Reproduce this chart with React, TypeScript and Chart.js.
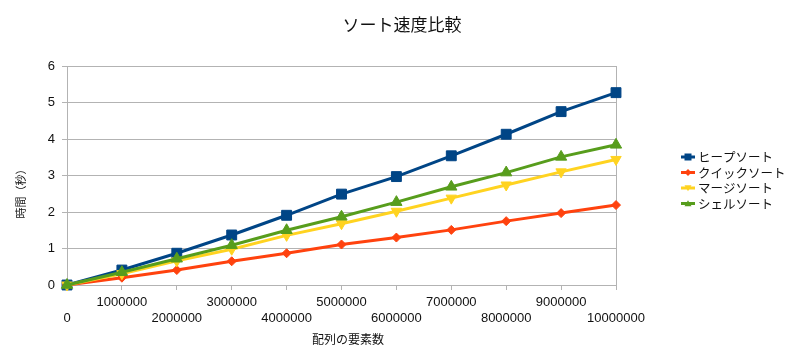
import React, { useEffect, useRef } from "react";
import { Chart, registerables } from "chart.js";

Chart.register(...registerables);

const categories = ["0", "1000000", "2000000", "3000000", "4000000", "5000000", "6000000", "7000000", "8000000", "9000000", "10000000"];
const heapSort = [0, 0.41, 0.87, 1.37, 1.91, 2.49, 2.97, 3.54, 4.13, 4.75, 5.27];
const quickSort = [0, 0.2, 0.41, 0.65, 0.87, 1.11, 1.3, 1.51, 1.75, 1.97, 2.19];
const mergeSort = [0, 0.31, 0.66, 0.98, 1.36, 1.68, 2.02, 2.38, 2.74, 3.1, 3.44];
const shellSort = [0, 0.35, 0.72, 1.09, 1.5, 1.87, 2.27, 2.69, 3.08, 3.51, 3.84];
const seriesNames = ["ヒープソート", "クイックソート", "マージソート", "シェルソート"];
const seriesColors = ["#004586", "#ff420e", "#ffd320", "#579d1c"];
const yTickValues = [0, 1, 2, 3, 4, 5, 6];
const chartTitle = "ソート速度比較";
const xTitle = "配列の要素数";
const yTitle = "時間（秒）";

const JP = "'Noto Sans CJK JP', 'Noto Sans', sans-serif";
const NUM = "'Liberation Sans', Arial, sans-serif";
const GRID = "#b3b3b3";

function drawMarker(ctx: CanvasRenderingContext2D, kind: number, x: number, y: number, r: number) {
  ctx.beginPath();
  if (kind === 0) {
    ctx.rect(x - r, y - r, 2 * r, 2 * r);
  } else if (kind === 1) {
    ctx.moveTo(x, y - r);
    ctx.lineTo(x + r, y);
    ctx.lineTo(x, y + r);
    ctx.lineTo(x - r, y);
    ctx.closePath();
  } else if (kind === 2) {
    ctx.moveTo(x - r, y - r * 0.8);
    ctx.lineTo(x + r, y - r * 0.8);
    ctx.lineTo(x, y + r * 0.9);
    ctx.closePath();
  } else {
    ctx.moveTo(x - r, y + r * 0.8);
    ctx.lineTo(x + r, y + r * 0.8);
    ctx.lineTo(x, y - r * 0.9);
    ctx.closePath();
  }
  ctx.fill();
}

const extrasPlugin = {
  id: "extras",
  afterDraw(chart: any) {
    const ctx: CanvasRenderingContext2D = chart.ctx;
    ctx.save();
    ctx.fillStyle = "#111";
    // chart title
    ctx.font = `17px ${JP}`;
    ctx.textAlign = "center";
    ctx.textBaseline = "middle";
    ctx.fillText(chartTitle, 402, 25);
    // axis titles
    ctx.font = `11px ${JP}`;
    ctx.save();
    ctx.translate(21, 191);
    ctx.rotate(-Math.PI / 2);
    ctx.fillText(yTitle, 0, 0);
    ctx.restore();
    ctx.font = `12px ${JP}`;
    ctx.fillText(xTitle, 348, 339);
    // legend
    const rowStart = 157;
    const rowStep = 15.5;
    seriesNames.forEach((name, i) => {
      const y = rowStart + i * rowStep;
      ctx.strokeStyle = seriesColors[i];
      ctx.fillStyle = seriesColors[i];
      ctx.lineWidth = 3;
      ctx.beginPath();
      ctx.moveTo(681, y);
      ctx.lineTo(695, y);
      ctx.stroke();
      drawMarker(ctx, i, 688, y, 3.5);
      ctx.fillStyle = "#111";
      ctx.font = `12.5px ${JP}`;
      ctx.textAlign = "left";
      ctx.textBaseline = "middle";
      ctx.fillText(name, 698, y + 0.5);
    });
    ctx.restore();
  },
};

export default function App() {
  const canvasRef = useRef<HTMLCanvasElement | null>(null);

  useEffect(() => {
    const canvas = canvasRef.current;
    if (!canvas) return;
    const lastIndex = categories.length - 1;
    const mk = (label: string, data: number[], color: string, style: any, radius: number, rotation = 0) => ({
      label,
      data,
      borderColor: color,
      backgroundColor: color,
      borderWidth: 3,
      pointStyle: style,
      pointRadius: radius,
      pointRotation: rotation,
      pointBorderWidth: 1,
      pointBackgroundColor: color,
      pointBorderColor: color,
      tension: 0,
      clip: false as any,
    });
    const chart = new Chart(canvas, {
      type: "line",
      data: {
        labels: categories,
        datasets: [
          mk(seriesNames[3], shellSort, seriesColors[3], "triangle", 6.5),
          mk(seriesNames[2], mergeSort, seriesColors[2], "triangle", 6, 180),
          mk(seriesNames[1], quickSort, seriesColors[1], "rectRot", 4.5),
          mk(seriesNames[0], heapSort, seriesColors[0], "rect", 7),
        ],
      },
      plugins: [extrasPlugin],
      options: {
        responsive: false,
        animation: false,
        devicePixelRatio: 1,
        layout: { padding: { left: 0, right: 184, top: 66, bottom: 0 } },
        plugins: {
          legend: { display: false },
          tooltip: { enabled: false },
          title: { display: false },
        },
        scales: {
          x: {
            type: "category",
            offset: false,
            afterFit: (scale: any) => {
              scale.height = 70;
            },
            border: { display: true, color: GRID, width: 1 },
            grid: {
              display: true,
              drawOnChartArea: true,
              drawTicks: true,
              tickLength: 5,
              color: (ctx: any) => (ctx.index === lastIndex ? GRID : "rgba(0,0,0,0)"),
              tickColor: GRID,
            },
            ticks: {
              autoSkip: false,
              maxRotation: 0,
              minRotation: 0,
              padding: 4,
              color: "#111",
              font: { family: NUM, size: 13, lineHeight: 16 / 13 },
              callback: (_v: any, index: number) => (index % 2 === 1 ? [categories[index], ""] : ["", categories[index]]),
            },
          },
          y: {
            min: yTickValues[0],
            max: yTickValues[yTickValues.length - 1],
            afterFit: (scale: any) => {
              scale.width = 67;
            },
            afterBuildTicks: (scale: any) => {
              scale.ticks = yTickValues.map((v) => ({ value: v }));
            },
            border: { display: true, color: GRID, width: 1 },
            grid: { color: GRID, tickLength: 5, tickColor: GRID },
            ticks: {
              padding: 7,
              color: "#111",
              font: { family: NUM, size: 13 },
            },
          },
        },
      },
    });
    return () => chart.destroy();
  }, []);

  return (
    <canvas
      ref={canvasRef}
      width={800}
      height={355}
      style={{ position: "absolute", left: 0, top: 0, width: 800, height: 355, display: "block" }}
    />
  );
}
